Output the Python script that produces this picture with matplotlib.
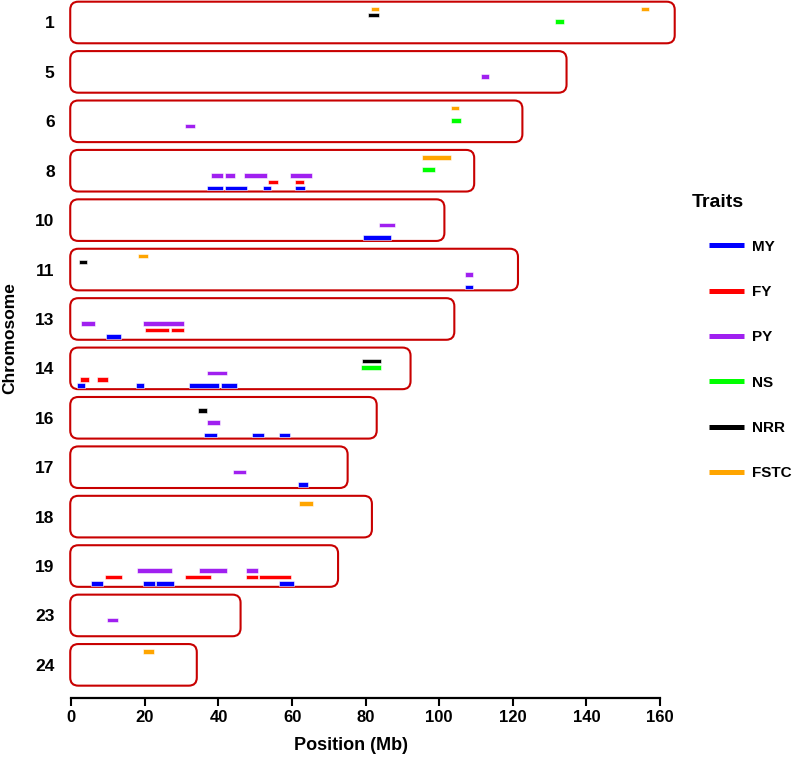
import matplotlib
matplotlib.use("Agg")
import matplotlib.pyplot as plt
from matplotlib.patches import FancyBboxPatch
from matplotlib.lines import Line2D

# chromosomes shown (top to bottom) and the drawn length of each box (Mb)
chromosomes = [1, 5, 6, 8, 10, 11, 13, 14, 16, 17, 18, 19, 23, 24]
chrom_length = [164.0, 134.6, 122.6, 109.5, 101.4, 121.4, 104.1,
                92.2, 83.0, 75.1, 81.7, 72.5, 46.0, 34.1]

# QTL regions per trait: (chromosome, start Mb, end Mb)
my_regions = [(8, 36.8, 41.3), (8, 41.8, 47.7), (8, 52.2, 54.2), (8, 60.7, 63.4),
              (10, 79.3, 86.9), (11, 107.0, 109.2), (13, 9.5, 13.5),
              (14, 1.5, 3.7), (14, 17.5, 19.8), (14, 31.9, 40.1), (14, 40.7, 45.0),
              (16, 36.1, 39.5), (16, 49.0, 52.4), (16, 56.4, 59.4), (17, 61.7, 64.3),
              (19, 5.4, 8.6), (19, 19.5, 22.8), (19, 23.0, 28.0), (19, 56.4, 60.4)]
fy_regions = [(8, 53.5, 56.2), (8, 60.7, 63.3), (13, 20.1, 26.6), (13, 27.1, 30.6),
              (14, 2.4, 4.7), (14, 7.0, 9.9),
              (19, 9.2, 13.8), (19, 30.9, 37.9), (19, 47.6, 50.7), (19, 51.0, 59.7)]
py_regions = [(5, 111.3, 113.6), (6, 30.9, 33.6),
              (8, 38.0, 41.3), (8, 41.8, 44.4), (8, 46.9, 53.2), (8, 59.4, 65.3),
              (10, 83.6, 87.9), (11, 107.0, 109.2), (13, 2.6, 6.4), (13, 19.5, 30.6),
              (14, 36.8, 42.4), (16, 36.8, 40.4), (17, 44.0, 47.4),
              (19, 17.9, 27.4), (19, 34.8, 42.4), (19, 47.6, 50.7), (23, 9.8, 12.6)]
ns_regions = [(1, 131.5, 133.9), (6, 103.1, 105.8), (8, 95.3, 98.8), (14, 78.7, 84.3)]
nrr_regions = [(1, 80.6, 83.6), (11, 2.0, 4.3), (14, 79.1, 84.3), (16, 34.5, 36.8)]
fstc_regions = [(1, 81.4, 83.6), (1, 154.8, 156.9), (6, 103.1, 105.4), (8, 95.3, 103.1),
                (11, 18.1, 20.8), (18, 62.0, 65.7), (24, 19.5, 22.4)]

traits = ["MY", "FY", "PY", "NS", "NRR", "FSTC"]
trait_regions = [my_regions, fy_regions, py_regions, ns_regions, nrr_regions, fstc_regions]
trait_colors = ["#0000FF", "#FF0000", "#A020F0", "#00FF00", "#000000", "#FFA500"]
# vertical offset of each trait track inside a chromosome box (rows)
trait_offset = [0.35, 0.225, 0.095, -0.02, -0.15, -0.27]

fig = plt.figure(figsize=(7.97, 7.58), dpi=100)
ax = fig.add_axes([0.0895, 0.0792, 0.7386, 0.9208])

row = {c: i for i, c in enumerate(chromosomes)}

for i, length in enumerate(chrom_length):
    box = FancyBboxPatch((-0.3, i - 0.421), length + 0.3, 0.842,
                         boxstyle="round,pad=0,rounding_size=2.2",
                         mutation_aspect=0.0746, facecolor="white",
                         edgecolor="#C80000", linewidth=1.5, clip_on=False, zorder=1)
    ax.add_patch(box)

for regions, color, off in zip(trait_regions, trait_colors, trait_offset):
    ys = [row[c] + off for c, s, e in regions]
    lefts = [s for c, s, e in regions]
    widths = [e - s for c, s, e in regions]
    ax.barh(ys, widths, left=lefts, height=0.092, color=color,
            edgecolor="white", linewidth=0.4, zorder=3)

ax.set_xlim(0, 160)
ax.set_ylim(13.67, -0.455)
ax.set_xticks(range(0, 161, 20))
ax.set_yticks(range(len(chromosomes)))
ax.set_yticklabels([str(c) for c in chromosomes], fontsize=12.5, fontweight="bold",
                   family="Liberation Sans")
for lab in ax.get_xticklabels():
    lab.set_family("Liberation Sans")
    lab.set_fontweight("bold")
    lab.set_fontsize(12)
ax.tick_params(axis="y", length=0, pad=12)
ax.tick_params(axis="x", length=6, width=1.5, pad=3)

for side in ["top", "right", "left"]:
    ax.spines[side].set_visible(False)
ax.spines["bottom"].set_linewidth(1.6)

ax.set_xlabel("Position (Mb)", fontsize=13, fontweight="bold", family="Liberation Sans")
ax.xaxis.set_label_coords(0.4756, -0.056)
fig.text(0.0125, 0.554, "Chromosome", rotation=90, ha="center", va="center",
         fontsize=12.5, fontweight="bold", family="Liberation Sans")

handles = [Line2D([0], [0], color=c, linewidth=3.6, solid_capstyle="butt")
           for c in trait_colors]
fig.text(0.868, 0.7326, "Traits", ha="left", va="center", fontsize=14,
         fontweight="bold", family="Liberation Sans")
leg = fig.legend(handles, traits, loc="upper left", bbox_to_anchor=(0.8795, 0.694),
                 frameon=False, borderpad=0, handlelength=2.3, handletextpad=0.55,
                 labelspacing=2.05, prop={"family": "Liberation Sans",
                                          "weight": "bold", "size": 11})

fig.savefig("out.png", dpi=100)
